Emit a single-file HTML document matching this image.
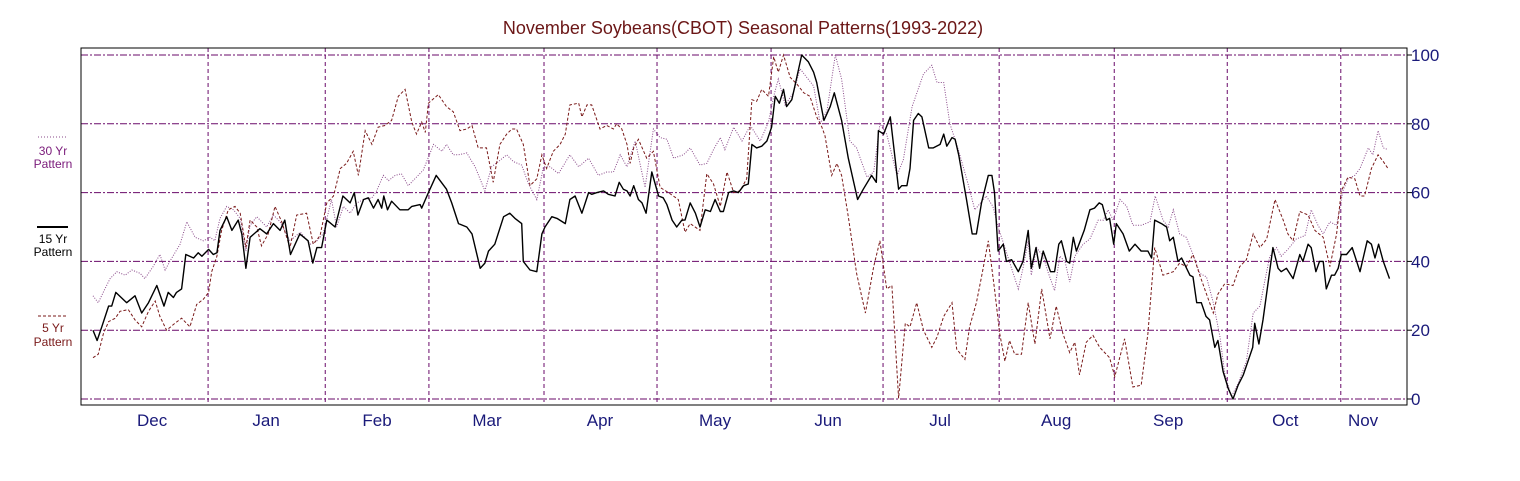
<!DOCTYPE html>
<html><head><meta charset="utf-8"><style>
body{margin:0;background:#fff;}
svg{display:block;font-family:"Liberation Sans",sans-serif;}
</style></head><body>
<svg id="chart" width="1520" height="481" viewBox="0 0 1520 481" xmlns="http://www.w3.org/2000/svg">
<rect x="0" y="0" width="1520" height="481" fill="#fff"/>
<text x="743" y="34" text-anchor="middle" font-size="18" fill="#6b1616">November Soybeans(CBOT) Seasonal Patterns(1993-2022)</text>
<g id="grid"></g><g id="series"></g><g id="axes"></g>
<g>
 <g>
  <line x1="38" y1="137" x2="68" y2="137" stroke="#8a4a8a" stroke-width="1" stroke-dasharray="1,2"/>
  <text x="53" y="155" text-anchor="middle" font-size="12" fill="#7a1a7a">30 Yr</text>
  <text x="53" y="168" text-anchor="middle" font-size="12" fill="#7a1a7a">Pattern</text>
 </g>
 <g>
  <line x1="37" y1="227" x2="68" y2="227" stroke="#000" stroke-width="2"/>
  <text x="53" y="243" text-anchor="middle" font-size="12" fill="#000">15 Yr</text>
  <text x="53" y="256" text-anchor="middle" font-size="12" fill="#000">Pattern</text>
 </g>
 <g>
  <line x1="38" y1="316" x2="68" y2="316" stroke="#7a1a1a" stroke-width="1" stroke-dasharray="3,2"/>
  <text x="53" y="332" text-anchor="middle" font-size="12" fill="#7a1a1a">5 Yr</text>
  <text x="53" y="346" text-anchor="middle" font-size="12" fill="#7a1a1a">Pattern</text>
 </g>
</g>
</svg>
<script>
const monthLabels=["Dec","Jan","Feb","Mar","Apr","May","Jun","Jul","Aug","Sep","Oct","Nov"];
const monthLabelDays=[11.4,33.4,54.8,76,97.8,120,141.8,163.4,185.8,207.4,230,245];
const monthStartDays=[22.2,44.8,64.8,87,108.8,130.8,152.4,174.8,197,218.8,240.7];
const yTicks=[0,20,40,60,80,100];
const days15=[0,0.8,1.7,3,3.6,4.4,6.5,8.1,9.4,10.7,12.3,13.7,14.5,15.5,16.1,17.1,17.9,19.4,20.3,21,22.3,23.2,23.9,24.5,25.8,26.8,28,28.7,29.5,30.3,32.2,33.5,34.8,36.1,37,38.1,39.9,41.5,42.4,43.2,44.1,45.1,46.7,48.2,49.6,50.4,51.1,52.2,53.1,54.1,55,55.7,56.1,56.8,57.6,59.2,60.8,61.5,63.1,63.4,64.7,66.2,68.2,69.2,70.5,72.1,73.1,74.7,75.6,76.3,77.5,79.2,80.4,81.4,82.7,83,84.3,85.6,86.6,87.2,88.5,89.5,91.1,92,93,94.3,95.6,96.2,97.2,98.5,99.4,100.7,101.5,102.3,103,103.6,104.3,105.2,105.9,106.7,107.8,109.1,110,110.7,111.7,112.6,113.6,114.2,115.2,116.2,117.1,118.1,119.1,120,121,121.6,122.6,123.6,124.5,125.5,126.4,127.1,128,129,130,130.9,131.6,132.4,133.2,133.8,134.8,135.4,136.7,138,139,139.6,140.1,141,142.2,143,144.4,145.7,147.5,148.6,150.2,151.1,151.5,152.5,153.8,155.4,156,157,157.6,158.3,159.2,159.9,161.2,162.1,163.4,164.1,164.7,165.7,166.3,167,168.5,169.6,170.4,171.4,172.7,173.4,173.9,174.6,175.6,176.2,177.2,178.5,179.4,180.4,181,181.9,182.6,183.3,184.7,185.5,186.3,186.8,187.8,188.4,189.1,189.7,191.2,192.3,193.2,194.1,194.7,195.5,196.1,196.9,197.4,198.7,199.9,201,202.2,203.5,204.2,204.8,206.1,207.1,207.7,208.4,209.3,210,211.6,212.2,212.9,213.8,214.7,215.4,216.4,217,218,219,219.9,220.9,221.9,222.8,223.7,224.1,224.9,225.7,226.7,227.6,228.6,229.2,230.2,231.5,232.8,233.4,234.4,235,235.9,236.6,237.3,237.9,238.9,239.5,240.2,240.8,241.8,242.9,244.4,245.8,246.6,247.3,248,248.9,250.1];
const vals15=[20,17,21,27,27,31,28,30,25,28,33,27,31,29.5,31,32,42,41,42.5,41.5,43.5,42,42.5,49,53,49,52,48,38,47,49.5,48,51,49,52,42,48,46,39.5,44,44,52,50,59,57,60,53.5,58,58.5,55.5,58,55.5,59,55,57.5,55,55,56,56.5,55.5,60,65,61,57,51,50,48,38,39.5,43,45,53,54,52.5,51,40,37.5,37,48,50,53,52.5,51,58,59,54,60,59.5,60,60.5,59.5,59,63,61,60.5,59,62,58,57,54,66,59,58.5,56.5,52,50,52,52,57,54,50,55,54.5,58,54.5,54.5,60,60.5,60,62,62.5,74,73,73.5,75,79,88,86,90,85,87,91,100,98,95,92,88,81,85,89,81,70,58,61,65,63,78,77,82,61,62,62,67,81,83,82,73,73,74,77,73.5,76,75.5,71,58,48,48,57,65,65,60,43,45,40,40.5,37,40,49,38,44,38,43,37,37,45,46,40,39.5,47,43,49,55,55.5,57,56.5,52,52.5,45,51,48,43,45,43,43,41,52,51,50,46,47,40,41,36,35.5,28,28,24,23,15,17,8,3,0,4,7,11,15,22,16,23,34,44,38,37,38,35,42,40,45,44,37,40,40,32,36,36,38,42,42,44,37,46,45,41,45,40,35];
const days30=[0,1,2.3,3.3,4.6,6.2,7.5,9.1,10,11.6,12.9,13.9,15.2,16.8,18.1,19.7,21.3,22.6,23.5,24.5,25.8,27.1,28.4,29.5,30.3,31.6,33.5,34.8,36.1,38,40,41.9,43.2,44.4,46,47,48.3,49.6,50.9,52.2,53.8,54.7,56,57,58.3,59.5,60.8,62.4,63.7,65.7,67.3,68.2,69.5,70.5,72.1,73.7,75.6,76.9,78.2,79.8,81.1,82.7,84,85.6,86.9,88.2,89.8,92,93.7,95.6,97.5,99.1,100.4,101.7,103,104.6,106.5,108.1,109.4,110.7,112,113.9,115.2,117.1,118.4,119.7,121,121.9,123.6,125.2,126.8,128.7,130.3,131.3,132.2,133.5,135.1,136.4,137.7,139,140.3,141.6,143.2,144.4,146,147.3,149.3,150.6,151.8,153.1,155.1,156.3,158,160.2,161.8,162.8,164.1,165.3,166.6,167.2,168.8,170.1,172.3,173.6,174.6,175.9,177.5,178.5,179.4,180.4,181,182,183.3,184.2,185.5,186.5,187.5,188.4,189.4,191,192.3,193.9,194.9,195.8,196.8,198.1,199.4,200.6,202.2,203.9,204.9,206.4,207.4,208.4,209.6,210.9,212.2,213.5,214.8,216.1,217.4,218.3,219.6,220.9,222.5,223.8,225.1,226,227,228.3,229.2,230.5,232.1,233.8,235,236.3,237.3,238.6,239.9,241.1,242.1,243.4,244.4,246,246.9,247.9,248.9,249.8];
const vals30=[30,28,32,35,37,36,37.5,36.5,35,38.5,42,37.5,41,45,51.5,47,46,47,46,52.5,56,55,52.5,43,50.5,53,50,53.5,51.5,46,48.5,45,46,48,58,50,56,54,57,58,58.5,60.5,65,63.5,65,65.5,62,64.5,66.5,74,72,74,71,71,71.5,67.5,60.5,67.5,69,71,69,68,62.5,58,67.5,67.5,65.5,71,67.5,70,65,66,66,71,67.5,75,61.5,78.5,76,75.5,70,71,73,68,68.5,72.5,76,72.5,79,75,79.5,75,80.5,88,93,85.5,89,96,93.5,91,80,84,100,93,75,73,64.5,66,80,77,65,69.5,85,94.5,97,92,92,80,74,71,62.5,55,59,56,50,44,36.5,32,38,46,36,44,41.5,37,31.5,41.5,40,34,41.5,45,46.5,52,52,55,52,58,56,50.5,50.5,51.5,59,52,50,55,48,47,42,36.5,35.5,28,18,7.5,0.7,4.5,11,25,27,34,41.5,44,41.5,43.5,46.5,47.5,55,50.5,48,51.5,50.5,60.5,64,65,67,73,71,78,73,72.5];
const days5=[0,1,2,3,4.3,5.2,6.8,8.1,9.4,10.7,12,12.9,14.2,15.8,17.1,18.7,20,21.3,22.3,22.9,23.9,24.8,26.1,27.4,28.4,29.5,30.3,31.6,32.5,33.8,35.1,36.4,38,39.3,41.2,42.5,43.8,45.1,46.4,47.7,48.9,50.2,51.2,52.5,53.8,55,56.3,57.6,58.9,60.2,61.5,62.4,63.4,64.1,64.7,66.6,68.2,69.5,70.8,72.1,73.1,74.3,75.9,77.2,78.5,79.8,80.8,81.7,83,84.3,85.6,86.6,87.5,88.8,90.1,91.1,92,93.7,94.3,95.3,96.2,97.8,99.1,100.4,101,102,103,103.6,104.3,105.2,106.8,108.1,109.4,111,112.9,114.2,115.2,117.1,118.4,119.7,121,122.3,123.6,124.8,126.1,127.1,128,129,130.3,131.3,132.2,133.2,134.5,135.8,137.1,138.3,139.6,140.6,141.2,142.5,143.5,144.4,145.7,147.3,149,150.6,151.8,153.1,154.1,155.4,156.7,157.6,158.9,160.2,161.8,162.8,164.1,165.7,166.6,168.2,169.1,170.4,171.4,172.7,173.9,174.9,175.9,176.8,177.8,179.1,180.4,181.7,183,184.6,185.8,187.1,188.4,189.4,190.3,191.6,192.9,194.2,196.1,197.1,199,200.6,202.2,203.5,204.8,206.4,208.4,209.6,210.9,212.2,213.5,214.8,216.1,217,218.3,219.9,221.2,222.5,223.8,225.1,226.4,228,229.6,230.5,231.5,232.8,234.4,235.7,237.3,238.6,239.9,240.8,242.1,243.4,244.4,245.3,246.6,247.9,248.9,249.8];
const vals5=[12,13,19,22.5,23.5,25.5,26,23,21,25.5,28.5,24,20,22,23.5,21,27.5,29,31,37,41.5,49,55,56,54,44,52,50,44.5,48,56,51.5,44,53.5,54,45,47.5,57,59,67,68.5,72,65,78,74,79,79.5,81,88,90,80.5,77,80.5,77.5,86,88.5,85,83.5,78,78.5,79.5,73,73,63,74,77,78.5,78.5,74,62,64,71,67,72,74,77,85.5,86,82,85.5,85.5,78.5,79.5,78.5,80,78.5,74,68.5,73,75.5,70,72,61.5,60,58,48.5,51,49,65.5,62.5,56,66,60,60.5,64,87,86.5,90,88,99.5,95,100,93.5,91.5,89,88,82,79,76.5,65,68.5,65,53,36.5,25,38.5,46,32,33,0.2,22,21,28,20,15,18,24,28,14.5,11.5,21,28,35.5,46,32,19,11,17,13,13,28,16,32,17.5,27,19,13.5,16.5,7,16.5,18.5,15,12,6.5,17.5,3.5,4,19,44,36,37,39.5,38.5,42,36,30.5,25,30.5,33.5,33,38.5,40.5,48,44,46.5,58,52,48,46,54.5,53.5,49,47,38.5,48,60.5,64.5,64,59,59,67,71,69,67];

const NS="http://www.w3.org/2000/svg";
const PL=81,PR=1407,PT=48,PB=405;
const X0=93,X1=1389,D0=0,D1=250;
function xScale(d){return X0+(d-D0)/(D1-D0)*(X1-X0);}
const Y0=399,Y100=55;
function yScale(v){return Y0-(v/100)*(Y0-Y100);}
function mk(tag,attrs,parent){const e=document.createElementNS(NS,tag);for(const k in attrs)e.setAttribute(k,attrs[k]);parent.appendChild(e);return e;}

const grid=document.getElementById('grid');
yTicks.forEach(t=>{
  const l=mk('line',{x1:PL,x2:PR,y1:yScale(t),y2:yScale(t),stroke:'#6a0a6a','stroke-width':1,'stroke-dasharray':'7,2,2,2'},grid);
  
  
});
monthStartDays.forEach((d,i)=>{
  const l=mk('line',{x1:xScale(d),x2:xScale(d),y1:PT,y2:PB,stroke:'#6a0a6a','stroke-width':1,'stroke-dasharray':'4,3'},grid);
  
  
});

const series=document.getElementById('series');
function path(days,vals){return days.map((d,i)=>(i?'L':'M')+xScale(d).toFixed(1)+','+yScale(vals[i]).toFixed(1)).join(' ');}
const p30=mk('path',{d:path(days30,vals30),fill:'none',stroke:'#8a4a8a','stroke-width':1,'stroke-dasharray':'1,1.5'},series);


const p5=mk('path',{d:path(days5,vals5),fill:'none',stroke:'#7a1a1a','stroke-width':1,'stroke-dasharray':'3,2'},series);


const p15=mk('path',{d:path(days15,vals15),fill:'none',stroke:'#000','stroke-width':1.4,'stroke-linejoin':'round'},series);



const axes=document.getElementById('axes');
const frame=mk('rect',{x:PL,y:PT,width:PR-PL,height:PB-PT,fill:'none',stroke:'#000','stroke-width':1},axes);


yTicks.forEach(t=>{
  const tk=mk('line',{x1:PR,x2:PR+5,y1:yScale(t),y2:yScale(t),stroke:'#000'},axes);
  
  
  const tx=mk('text',{x:PR+4,y:yScale(t)+6,'font-size':17,fill:'#1a1a7a'},axes);
  tx.textContent=t;
  
  
});
monthLabels.forEach((m,i)=>{
  const tx=mk('text',{x:xScale(monthLabelDays[i]),y:426,'font-size':17,fill:'#1a1a7a','text-anchor':'middle'},axes);
  tx.textContent=m;
  
  
});
</script>
</body></html>
